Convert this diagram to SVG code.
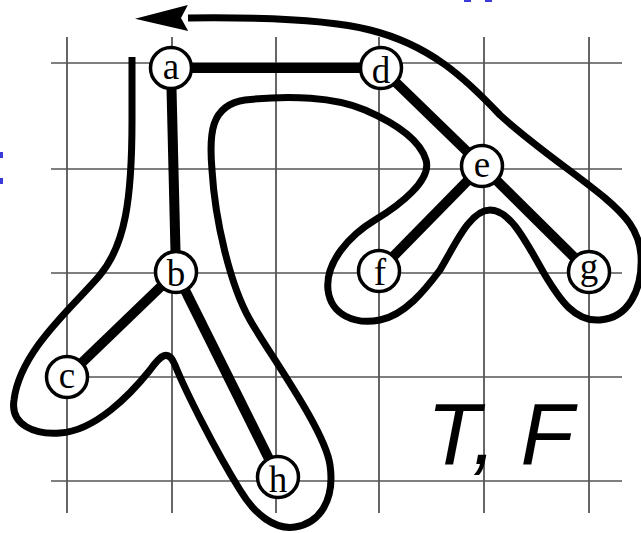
<svg xmlns="http://www.w3.org/2000/svg" width="641" height="533" viewBox="0 0 641 533">
<style>
.grid line{stroke:#333;stroke-width:1.5}
.gh line{stroke:#555}
.edge{stroke:#000;stroke-width:10;stroke-linecap:butt}
.node circle{fill:#fff;stroke:#000;stroke-width:3.5}
.node text{font-family:"Liberation Serif","Times New Roman",serif;font-size:37px;text-anchor:middle;fill:#000}
.tour{fill:none;stroke:#000;stroke-width:7;stroke-linejoin:round}
.frag{fill:#3a3ad6}
</style>
<defs>
<marker id="arrow" markerUnits="userSpaceOnUse" markerWidth="56" markerHeight="30" viewBox="0 -15 56 30" refX="0" refY="0" orient="auto" overflow="visible">
<path d="M0,-13 L53,0 L0,13 L7,0 z" fill="#000"/>
</marker>
</defs>
<rect x="0" y="0" width="641" height="533" fill="#fff"/>
<g id="fragments">
<rect class="frag" x="0" y="152" width="3" height="6"/>
<rect class="frag" x="0" y="178" width="3" height="6"/>
<rect class="frag" x="464" y="0" width="7" height="2"/>
<rect class="frag" x="485" y="0" width="7" height="2"/>
</g>
<g id="grid" class="grid">
<line x1="67" y1="37" x2="67" y2="513"/>
<line x1="172" y1="37" x2="172" y2="513"/>
<line x1="276" y1="37" x2="276" y2="513"/>
<line x1="379" y1="37" x2="379" y2="513"/>
<line x1="484" y1="37" x2="484" y2="513"/>
<line x1="589" y1="37" x2="589" y2="513"/>
<g class="gh">
<line x1="51" y1="63" x2="622" y2="63"/>
<line x1="51" y1="169" x2="622" y2="169"/>
<line x1="51" y1="273" x2="622" y2="273"/>
<line x1="51" y1="377" x2="622" y2="377"/>
<line x1="51" y1="481" x2="622" y2="481"/>
</g>
</g>
<g id="connectors">
<line class="edge" x1="171" y1="68" x2="381" y2="68"/>
<line class="edge" x1="171" y1="68" x2="176" y2="272"/>
<line class="edge" x1="381" y1="68" x2="482" y2="166"/>
<line class="edge" x1="482" y1="166" x2="379" y2="271"/>
<line class="edge" x1="482" y1="166" x2="589" y2="272"/>
<line class="edge" x1="176" y1="272" x2="67" y2="377"/>
<line class="edge" x1="176" y1="272" x2="278" y2="477"/>
<path id="tour" class="tour" marker-end="url(#arrow)" d="M132,57 L132,120 C132,200 125,245 100,275 C75,305 20,350 14,400 C10,425 35,435 60,433 C95,431 130,395 150,370 C160,356 168,348 175,365 C185,390 215,450 240,490 C255,515 275,530 295,527 C320,523 335,500 330,465 C325,430 270,355 250,320 C230,285 215,220 212,170 C209,135 210,105 245,100 C290,95 335,97 365,110 C395,123 420,140 426,160 C432,180 400,205 375,220 C350,235 325,262 328,290 C331,315 355,325 380,320 C405,315 425,290 440,270 C455,245 470,210 490,210 C510,210 525,240 545,275 C560,300 575,322 600,320 C628,318 643,290 641,255 C639,230 625,215 605,198 C575,173 535,147 500,115 C465,78 430,45 370,30 C330,20 270,17 188,18"/>
</g>
<g id="node-a" class="node"><circle cx="171" cy="68" r="20.5"/><text x="171" y="78.5">a</text></g>
<g id="node-d" class="node"><circle cx="381" cy="68" r="20.5"/><text x="381" y="83">d</text></g>
<g id="node-e" class="node"><circle cx="482" cy="166" r="20.5"/><text x="482" y="176.5">e</text></g>
<g id="node-f" class="node"><circle cx="379" cy="271" r="20.5"/><text x="380" y="285">f</text></g>
<g id="node-g" class="node"><circle cx="589" cy="272" r="20.5"/><text x="589" y="279">g</text></g>
<g id="node-b" class="node"><circle cx="176" cy="272" r="20.5"/><text x="176" y="286">b</text></g>
<g id="node-c" class="node"><circle cx="67" cy="377" r="20.5"/><text x="67" y="387.5">c</text></g>
<g id="node-h" class="node"><circle cx="278" cy="477" r="20.5"/><text x="278" y="492">h</text></g>
<text id="label" x="427" y="464" font-family="'Liberation Sans',Arial,sans-serif" font-style="italic" font-size="87" fill="#000">T, F</text>
</svg>
